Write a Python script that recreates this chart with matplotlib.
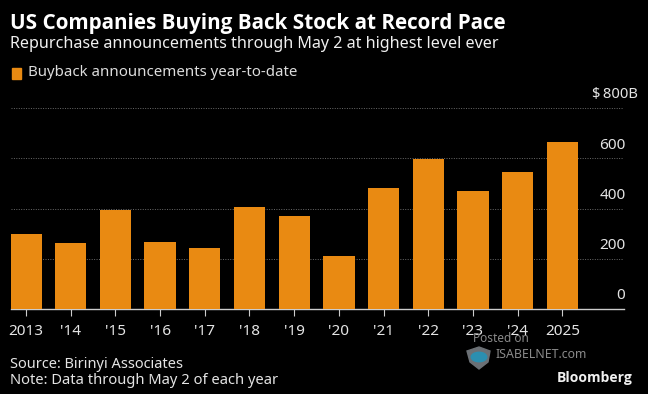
import matplotlib.pyplot as plt
from matplotlib.patches import Polygon, Circle, Rectangle

years = ["2013", "'14", "'15", "'16", "'17", "'18", "'19", "'20", "'21", "'22", "'23", "'24", "2025"]
buybacks = [298, 262, 394, 267, 243, 406, 370, 211, 481, 597, 470, 545, 665]
y_ticks = [0, 200, 400, 600, 800]
y_labels = ["0", "200", "400", "600", "$\u2009800B"]

W, H = 648, 394
orange = "#E98A12"
plt.rcParams["font.family"] = ["Noto Sans", "DejaVu Sans"]

fig = plt.figure(figsize=(W / 100, H / 100), dpi=100, facecolor="black")

# axes box in pixels: left 11, right 624, y=0 at 309, y=800 at 108
ax = fig.add_axes([11 / W, 1 - 309 / H, 613 / W, 201 / H], facecolor="black")
x = list(range(len(years)))
ax.bar(x, buybacks, width=0.7, color=orange, zorder=3)

ax.set_xlim(-0.336, 13.38)
ax.set_ylim(0, 800)
ax.set_xticks(x)
ax.set_xticklabels(years, fontsize=11, color="#e4e4e4")
ax.tick_params(axis="x", length=5, width=0.8, color="#cccccc", pad=6)
ax.set_yticks([])

for s in ["top", "left", "right"]:
    ax.spines[s].set_visible(False)
ax.spines["bottom"].set_color("#cccccc")
ax.spines["bottom"].set_linewidth(1)

for v, lab in zip(y_ticks, y_labels):
    if v > 0:
        ax.axhline(v, color="#6a6a6a", lw=0.7, ls=(0, (1, 1.5)), zorder=1)
    # the top label hangs past the end of the axis
    off = 10 if v == 800 else 1
    ax.annotate(lab, (1, v), xycoords=("axes fraction", "data"), xytext=(off, 4),
                textcoords="offset points", ha="right", va="bottom",
                fontsize=10.6 if v == 800 else 11, color="#e4e4e4")


def px_text(px, py, s, **kw):
    fig.text(px / W, 1 - py / H, s, va="center", **kw)


px_text(10, 23, "US Companies Buying Back Stock at Record Pace", fontsize=14.9,
        fontweight="bold", family="Open Sans", color="white")
px_text(10, 44, "Repurchase announcements through May 2 at highest level ever",
        fontsize=11.6, color="#f0f0f0")
px_text(28, 73, "Buyback announcements year-to-date", fontsize=10.8, color="#dddddd")
fig.add_artist(Rectangle((12 / W, 1 - 79 / H), 9 / W, 11 / H, color=orange,
                         transform=fig.transFigure))

px_text(10, 365, "Source: Birinyi Associates", fontsize=10.5, color="#e4e4e4")
px_text(10, 381, "Note: Data through May 2 of each year", fontsize=10.6, color="#e4e4e4")
px_text(557, 378, "Bloomberg", fontsize=10, fontweight="bold", family="Open Sans", color="#f0f0f0")

# watermark
px_text(473, 338, "Posted on", fontsize=8.5, color="#8a8a8a")
px_text(496, 355, "ISABELNET.com", fontsize=8.9, color="#8a8a8a")
shield = [(467, 351), (479, 347), (490, 351), (488, 362), (479, 369), (470, 362)]
fig.add_artist(Polygon([(a / W, 1 - b / H) for a, b in shield], color="#6b7075",
                       transform=fig.transFigure))
fig.add_artist(Circle((479 / W, 1 - 357 / H), 0.012, color="#2b8fb0",
                      transform=fig.transFigure))

plt.savefig("out.png", dpi=100, facecolor="black")
